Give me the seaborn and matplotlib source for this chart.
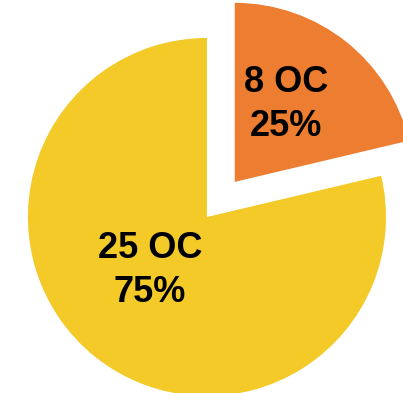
import matplotlib
matplotlib.use("Agg")
import matplotlib.pyplot as plt
import seaborn as sns

categories = ["8 OC", "25 OC"]
shares = [21.3, 78.7]          # wedge sizes as drawn
share_labels = ["25%", "75%"]   # percentages as printed
colors = ["#ED7D31", "#F3CA27"]
explode = [0.25, 0.0]

sns.set_theme(style="white")
plt.rcParams["font.family"] = ["Liberation Sans", "DejaVu Sans"]

fig = plt.figure(figsize=(4.03, 3.93), dpi=100)
ax = fig.add_axes([0, 0, 1, 1])
wedges, _ = ax.pie(shares, colors=colors, explode=explode, startangle=90,
                   counterclock=False, radius=1.0,
                   wedgeprops=dict(linewidth=0))
ax.set_aspect("equal")
ax.set_xlim(-1.156, 1.095)
ax.set_ylim(-0.983, 1.212)
ax.axis("off")

text_pos = [(0.441, 0.630), (-0.318, -0.300)]
for cat, lab, (x, y) in zip(categories, share_labels, text_pos):
    ax.text(x, y, f"{cat}\n{lab}", ha="center", va="center",
            fontsize=26, fontweight="bold", color="black", linespacing=1.33)

fig.savefig("out.png", dpi=100, facecolor="white")
